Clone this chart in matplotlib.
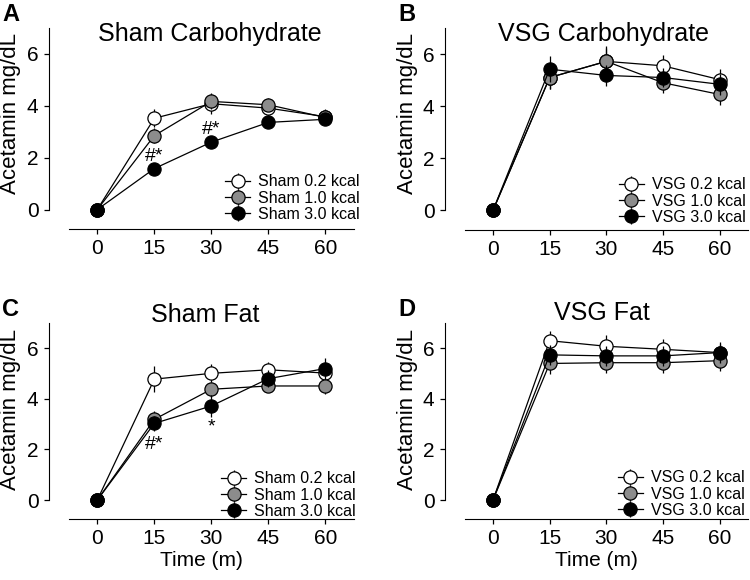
import numpy as np
import matplotlib.pyplot as plt

plt.rcParams['font.family'] = ['Liberation Sans', 'DejaVu Sans']

time = [0, 15, 30, 45, 60]

# Sham Carbohydrate
sc_02 = [0, 3.52, 4.08, 3.91, 3.58]
sc_10 = [0, 2.85, 4.17, 4.04, 3.55]
sc_30 = [0, 1.58, 2.60, 3.36, 3.48]
sc_02_err = [0, 0.35, 0.40, 0.30, 0.30]
sc_10_err = [0, 0.30, 0.30, 0.25, 0.25]
sc_30_err = [0, 0.15, 0.20, 0.15, 0.15]

# VSG Carbohydrate
vc_02 = [0, 5.10, 5.72, 5.55, 5.02]
vc_10 = [0, 5.10, 5.72, 4.90, 4.45]
vc_30 = [0, 5.42, 5.18, 5.10, 4.84]
vc_02_err = [0, 0.45, 0.50, 0.40, 0.40]
vc_10_err = [0, 0.45, 0.60, 0.40, 0.40]
vc_30_err = [0, 0.50, 0.40, 0.35, 0.40]

# Sham Fat
sf_02 = [0, 4.78, 5.01, 5.15, 5.02]
sf_10 = [0, 3.19, 4.38, 4.51, 4.51]
sf_30 = [0, 3.03, 3.72, 4.80, 5.20]
sf_02_err = [0, 0.50, 0.35, 0.30, 0.30]
sf_10_err = [0, 0.35, 0.30, 0.25, 0.30]
sf_30_err = [0, 0.30, 0.45, 0.35, 0.40]

# VSG Fat
vf_02 = [0, 6.30, 6.08, 5.96, 5.83]
vf_10 = [0, 5.40, 5.43, 5.43, 5.51]
vf_30 = [0, 5.74, 5.70, 5.70, 5.83]
vf_02_err = [0, 0.40, 0.45, 0.40, 0.35]
vf_10_err = [0, 0.40, 0.40, 0.40, 0.40]
vf_30_err = [0, 0.40, 0.40, 0.40, 0.40]

kcal = ['0.2', '1.0', '3.0']
face = ['white', '#8c8c8c', 'black']

panels = [
    ('A', 'Sham Carbohydrate', 'Sham', [sc_02, sc_10, sc_30], [sc_02_err, sc_10_err, sc_30_err]),
    ('B', 'VSG Carbohydrate', 'VSG', [vc_02, vc_10, vc_30], [vc_02_err, vc_10_err, vc_30_err]),
    ('C', 'Sham Fat', 'Sham', [sf_02, sf_10, sf_30], [sf_02_err, sf_10_err, sf_30_err]),
    ('D', 'VSG Fat', 'VSG', [vf_02, vf_10, vf_30], [vf_02_err, vf_10_err, vf_30_err]),
]

# significance marks: (panel, x, y, text)
marks = [
    ('A', 15, 2.05, '#*'),
    ('A', 30, 3.08, '#*'),
    ('C', 15, 2.2, '#*'),
    ('C', 30, 2.9, '*'),
]

W, H = 750, 580
fig = plt.figure(figsize=(7.5, 5.8), dpi=100)

# pixel layout per panel: axes box (left, right, top, bottom),
# title centre, y-label centre, legend lower-right corner
boxes = {
    'A': (49, 354, 28, 229),
    'B': (445, 748, 28, 230),
    'C': (49, 354, 323, 519),
    'D': (445, 748, 323, 519),
}
title_pos = {'A': (210, 34), 'B': (604, 34), 'C': (205, 315), 'D': (602, 313)}
ylab_pos = {'A': (11, 113), 'B': (407, 113), 'C': (11, 410), 'D': (407, 410)}
leg_pos = {'A': (360, 222), 'B': (746, 225), 'C': (356, 519), 'D': (745, 518)}

def fx(px):
    return px / W

def fy(py):
    return 1 - py / H

for letter, title, grp, series, errs in panels:
    l, r, t, b = boxes[letter]
    ax = fig.add_axes([fx(l), fy(b), (r - l) / W, (b - t) / H])
    for i in range(3):
        ax.errorbar(time, series[i], yerr=errs[i], fmt='-o', color='black',
                    mfc=face[i], mec='black', ms=9.5, lw=0.9, elinewidth=0.9,
                    capsize=0, mew=0.9, label=f'{grp} {kcal[i]} kcal', zorder=3 + i)
    ax.set_xlim(-12.7, 67.5)
    ax.set_ylim(-0.75, 7)
    ax.spines['top'].set_visible(False)
    ax.spines['right'].set_visible(False)
    ax.spines['left'].set_bounds(0, 7)
    ax.spines['bottom'].set_bounds(-7.5, 67.5)
    ax.set_xticks(time)
    ax.set_yticks([0, 2, 4, 6])
    ax.tick_params(labelsize=15, length=3.5, width=0.9, pad=4)
    fig.text(fx(ylab_pos[letter][0]), fy(ylab_pos[letter][1]), 'Acetamin mg/dL',
             fontsize=16, rotation=90, ha='center', va='center')
    fig.text(fx(title_pos[letter][0]), fy(title_pos[letter][1]), title,
             fontsize=18, ha='center', va='center')
    if letter in ('C', 'D'):
        ax.set_xlabel('Time (m)', fontsize=15, labelpad=2)
    ax.legend(loc='lower right', fontsize=11.5, frameon=False,
              handlelength=1.6, handletextpad=0.5, labelspacing=0.08,
              borderpad=0, borderaxespad=0,
              bbox_to_anchor=(fx(leg_pos[letter][0]), fy(leg_pos[letter][1])),
              bbox_transform=fig.transFigure)
    for letter2, x, y, txt in marks:
        if letter2 == letter:
            ax.text(x, y, txt, ha='center', va='center', fontsize=14)
    fig.text(fx(l - 47), fy(t - 25), letter, fontsize=17,
             fontweight='bold', ha='left', va='top')

fig.savefig('out.png', dpi=100)
